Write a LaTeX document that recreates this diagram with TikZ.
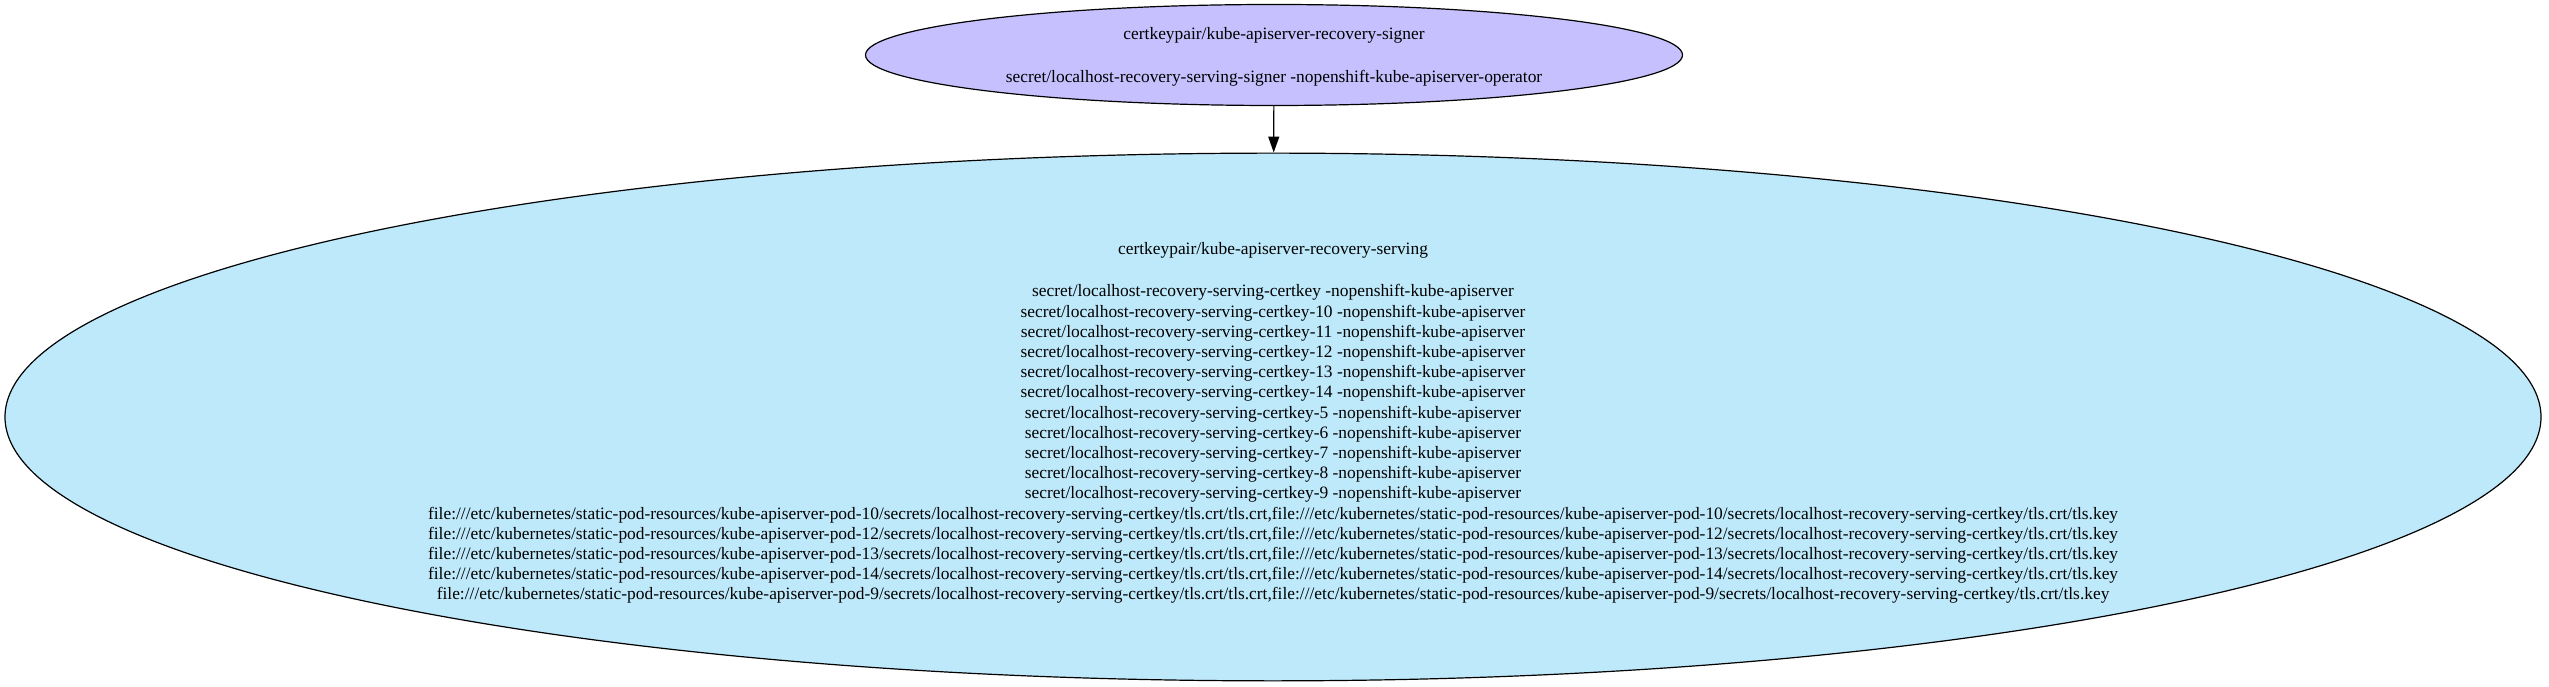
\documentclass[tikz,border=0pt]{standalone}
\usepackage{fontspec}
\setmainfont{Liberation Serif}
\usetikzlibrary{shapes.geometric,arrows.meta}
\tikzset{certnode/.style={ellipse,draw,line width=1.2pt,inner sep=0pt,align=center,
  font=\fontsize{17.4}{20.2}\selectfont}}
\begin{document}
\begin{tikzpicture}[x=1pt,y=1pt]
        \useasboundingbox (0,0) rectangle (2549,687);
        \node[certnode,fill={rgb,255:red,198;green,192;blue,254},minimum width=817pt,minimum height=101pt] (signer) at (1274,632)
          {\rule{0pt}{16pt}certkeypair/kube-apiserver-recovery-signer\\[3pt] \\secret/localhost-recovery-serving-signer -nopenshift-kube-apiserver-operator};
        \node[certnode,fill={rgb,255:red,190;green,233;blue,251},minimum width=2536pt,minimum height=526pt] (serving) at (1273,270)
          {\rule{0pt}{24pt}certkeypair/kube-apiserver-recovery-serving\\[2pt] \\
          secret/localhost-recovery-serving-certkey -nopenshift-kube-apiserver\\
          secret/localhost-recovery-serving-certkey-10 -nopenshift-kube-apiserver\\
          secret/localhost-recovery-serving-certkey-11 -nopenshift-kube-apiserver\\
          secret/localhost-recovery-serving-certkey-12 -nopenshift-kube-apiserver\\
          secret/localhost-recovery-serving-certkey-13 -nopenshift-kube-apiserver\\
          secret/localhost-recovery-serving-certkey-14 -nopenshift-kube-apiserver\\
          secret/localhost-recovery-serving-certkey-5 -nopenshift-kube-apiserver\\
          secret/localhost-recovery-serving-certkey-6 -nopenshift-kube-apiserver\\
          secret/localhost-recovery-serving-certkey-7 -nopenshift-kube-apiserver\\
          secret/localhost-recovery-serving-certkey-8 -nopenshift-kube-apiserver\\
          secret/localhost-recovery-serving-certkey-9 -nopenshift-kube-apiserver\\
          file:///etc/kubernetes/static-pod-resources/kube-apiserver-pod-10/secrets/localhost-recovery-serving-certkey/tls.crt/tls.crt,file:///etc/kubernetes/static-pod-resources/kube-apiserver-pod-10/secrets/localhost-recovery-serving-certkey/tls.crt/tls.key\\
          file:///etc/kubernetes/static-pod-resources/kube-apiserver-pod-12/secrets/localhost-recovery-serving-certkey/tls.crt/tls.crt,file:///etc/kubernetes/static-pod-resources/kube-apiserver-pod-12/secrets/localhost-recovery-serving-certkey/tls.crt/tls.key\\
          file:///etc/kubernetes/static-pod-resources/kube-apiserver-pod-13/secrets/localhost-recovery-serving-certkey/tls.crt/tls.crt,file:///etc/kubernetes/static-pod-resources/kube-apiserver-pod-13/secrets/localhost-recovery-serving-certkey/tls.crt/tls.key\\
          file:///etc/kubernetes/static-pod-resources/kube-apiserver-pod-14/secrets/localhost-recovery-serving-certkey/tls.crt/tls.crt,file:///etc/kubernetes/static-pod-resources/kube-apiserver-pod-14/secrets/localhost-recovery-serving-certkey/tls.crt/tls.key\\
          file:///etc/kubernetes/static-pod-resources/kube-apiserver-pod-9/secrets/localhost-recovery-serving-certkey/tls.crt/tls.crt,file:///etc/kubernetes/static-pod-resources/kube-apiserver-pod-9/secrets/localhost-recovery-serving-certkey/tls.crt/tls.key};
        \draw[line width=1.2pt,-{Triangle[length=16pt,width=11pt]}] (signer) -- (serving);
    \end{tikzpicture}
\end{document}
